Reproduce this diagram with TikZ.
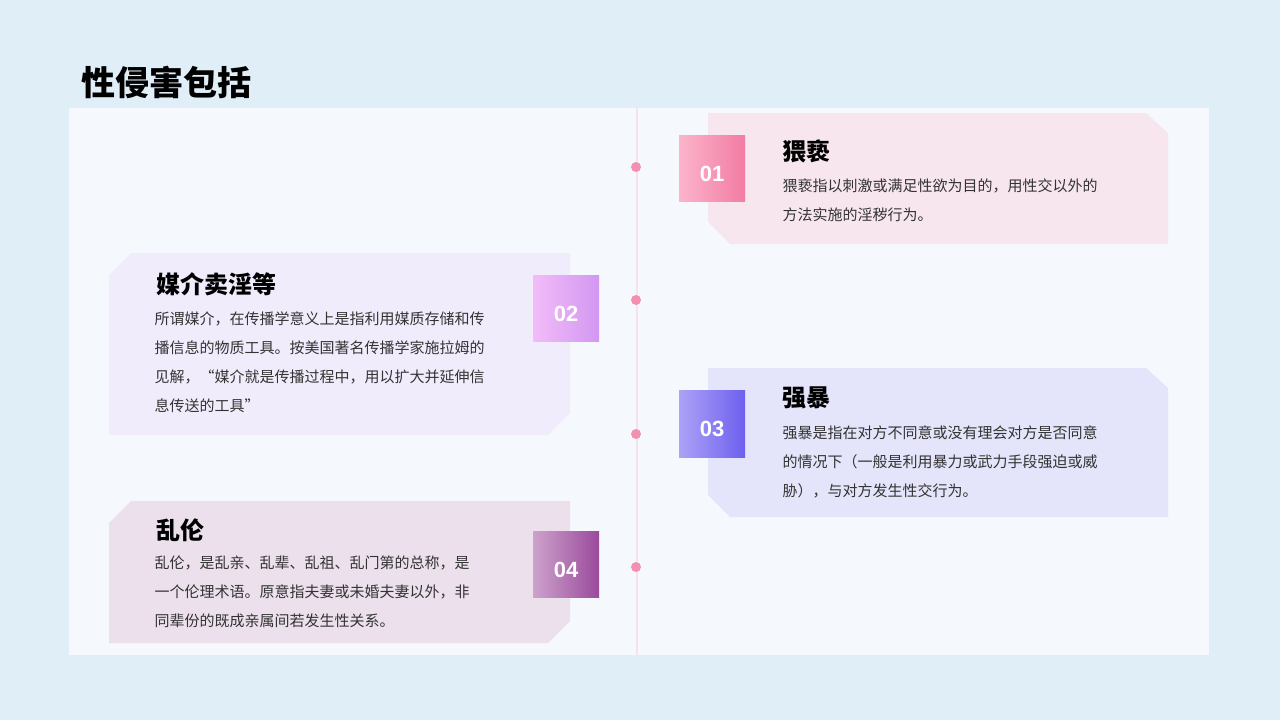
\documentclass[tikz,border=0pt]{standalone}
\usepackage{fontspec}
\setmainfont{Noto Sans CJK SC}
\newfontfamily\numfont{Liberation Sans}
\definecolor{bgc}{HTML}{E0EEF8}
\definecolor{panel}{HTML}{F5F9FD}
\definecolor{dotc}{HTML}{F48FB1}
\definecolor{linec}{HTML}{F6E2EA}
\definecolor{ca}{HTML}{F8E6EF}
\definecolor{cb}{HTML}{F1ECFB}
\definecolor{cc}{HTML}{E4E4FA}
\definecolor{cd}{HTML}{EBE0EC}
\definecolor{txt}{HTML}{333333}
\definecolor{g1a}{HTML}{FBB4CB}\definecolor{g1c}{HTML}{F27CA3}
\definecolor{g2a}{HTML}{F2BCF8}\definecolor{g2c}{HTML}{D297F1}
\definecolor{g3a}{HTML}{ADA2F7}\definecolor{g3c}{HTML}{6E60EE}
\definecolor{g4a}{HTML}{CDA2CC}\definecolor{g4c}{HTML}{9A4A9B}
\tikzset{
 ttl/.style={anchor=west,font=\fontsize{24}{28}\selectfont\bfseries,text=black},
 body/.style={anchor=north west,align=left,font=\fontsize{15}{29}\selectfont,text=txt},
 num/.style={font=\fontsize{22}{26}\selectfont\numfont\bfseries,text=white},
 dotst/.style={circle,fill=dotc,inner sep=0pt,minimum size=10pt},
 grad/.style 2 args={left color=#1,right color=#2}
}
\begin{document}
\begin{tikzpicture}[x=1pt,y=-1pt]
\fill[bgc] (0,0) rectangle (1280,720);
\useasboundingbox (0,0) rectangle (1280,720);
\node[anchor=west,font=\fontsize{34}{40}\selectfont\bfseries] (title) at (78,82) {性侵害包括};
\fill[panel] (69,108) rectangle (1209,655);
\draw[linec,line width=1.5pt] (637,108) -- (637,655);
\foreach \y/\n in {167/d1,300/d2,434/d3,567/d4} \node[dotst] (\n) at (636,\y) {};
% card 1
\fill[ca] (708,113) -- (1146,113) -- (1168,133) -- (1168,244) -- (730,244) -- (708,222) -- cycle;
\shade[grad={g1a}{g1c}] (679,135) rectangle (745,201);
\node[num] (n1) at (712,174) {01};
\node[ttl] (t1) at (779,151) {猥亵};
\node[body] (b1) at (779,175) {猥亵指以刺激或满足性欲为目的，用性交以外的\\方法实施的淫秽行为。};
% card 2
\fill[cb] (131,253) -- (570,253) -- (570,413) -- (548,435) -- (109,435) -- (109,275) -- cycle;
\shade[grad={g2a}{g2c}] (533,275) rectangle (599,341);
\node[num] (n2) at (566,314) {02};
\node[ttl] (t2) at (153,284) {媒介卖淫等};
\node[body] (b2) at (151,308) {所谓媒介，在传播学意义上是指利用媒质存储和传\\播信息的物质工具。按美国著名传播学家施拉姆的\\见解，“媒介就是传播过程中，用以扩大并延伸信\\息传送的工具”};
% card 3
\fill[cc] (708,368) -- (1146,368) -- (1168,388) -- (1168,517) -- (730,517) -- (708,495) -- cycle;
\shade[grad={g3a}{g3c}] (679,390) rectangle (745,457);
\node[num] (n3) at (712,429) {03};
\node[ttl] (t3) at (779,398) {强暴};
\node[body] (b3) at (779,422) {强暴是指在对方不同意或没有理会对方是否同意\\的情况下（一般是利用暴力或武力手段强迫或威\\胁），与对方发生性交行为。};
% card 4
\fill[cd] (131,501) -- (570,501) -- (570,621) -- (548,643) -- (109,643) -- (109,523) -- cycle;
\shade[grad={g4a}{g4c}] (533,531) rectangle (599,597);
\node[num] (n4) at (566,570) {04};
\node[ttl] (t4) at (153,530) {乱伦};
\node[body] (b4) at (151,552) {乱伦，是乱亲、乱辈、乱祖、乱门第的总称，是\\一个伦理术语。原意指夫妻或未婚夫妻以外，非\\同辈份的既成亲属间若发生性关系。};
\end{tikzpicture}
\end{document}
